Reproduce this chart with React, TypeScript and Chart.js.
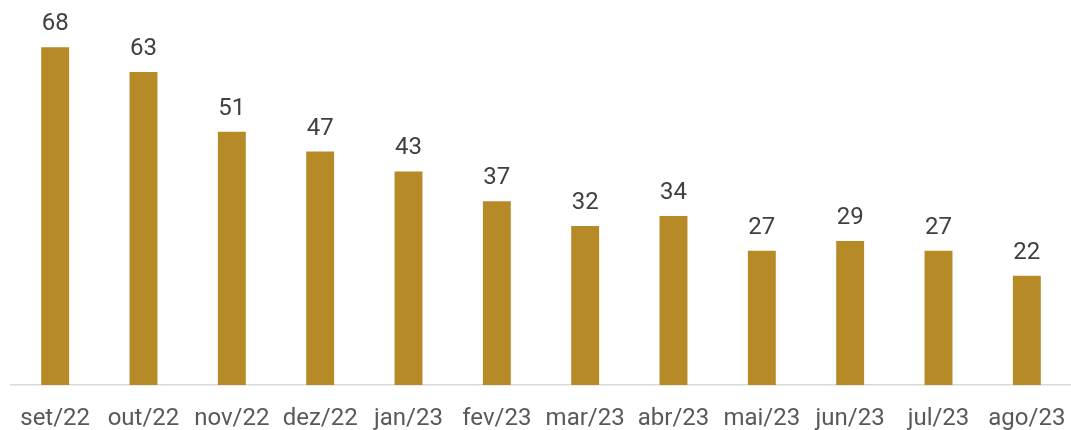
import React, { useEffect, useRef } from "react";
import { Chart, registerables } from "chart.js";

Chart.register(...registerables);

const categories = [
  "set/22", "out/22", "nov/22", "dez/22", "jan/23", "fev/23",
  "mar/23", "abr/23", "mai/23", "jun/23", "jul/23", "ago/23",
];
const values = [68, 63, 51, 47, 43, 37, 32, 34, 27, 29, 27, 22];

const FONT = "Roboto, 'Noto Sans', sans-serif";

const valueLabels = {
  id: "valueLabels",
  afterDatasetsDraw(chart: any) {
    const ctx = chart.ctx;
    const meta = chart.getDatasetMeta(0);
    ctx.save();
    ctx.font = `24px ${FONT}`;
    ctx.fillStyle = "#404040";
    ctx.textAlign = "center";
    ctx.textBaseline = "alphabetic";
    meta.data.forEach((bar: any, i: number) => {
      ctx.fillText(String(values[i]), bar.x, bar.y - 17);
    });
    ctx.restore();
  },
};

export default function App() {
  const ref = useRef<HTMLCanvasElement | null>(null);
  useEffect(() => {
    if (!ref.current) return;
    const chart = new Chart(ref.current, {
      type: "bar",
      data: {
        labels: categories,
        datasets: [
          {
            data: values,
            backgroundColor: "#B58A27",
            borderWidth: 0,
            barPercentage: 0.632,
            categoryPercentage: 0.5,
          },
        ],
      },
      options: {
        animation: false,
        responsive: false,
        maintainAspectRatio: false,
        layout: { padding: { left: 11, right: 0, top: 0, bottom: 0 } },
        plugins: {
          legend: { display: false },
          tooltip: { enabled: false },
        },
        scales: {
          x: {
            grid: { display: false, drawTicks: false },
            border: { display: true, color: "#D9D9D9", width: 1.5 },
            ticks: {
              color: "#595959",
              font: { family: FONT, size: 24 },
              padding: 20,
              maxRotation: 0,
              autoSkip: false,
            },
            afterFit: (scale: any) => {
              scale.height = 45;
              scale.paddingLeft = 0;
              scale.paddingRight = 0;
              scale.paddingTop = 0;
              scale.paddingBottom = 0;
            },
          },
          y: {
            display: false,
            min: 0,
            max: 77.5,
          },
        },
      },
      plugins: [valueLabels],
    });
    return () => chart.destroy();
  }, []);
  return (
    <div style={{ position: "absolute", left: 0, top: 0, width: 1071, height: 430, background: "#fff" }}>
      <canvas ref={ref} width={1071} height={430} style={{ display: "block" }} />
    </div>
  );
}
